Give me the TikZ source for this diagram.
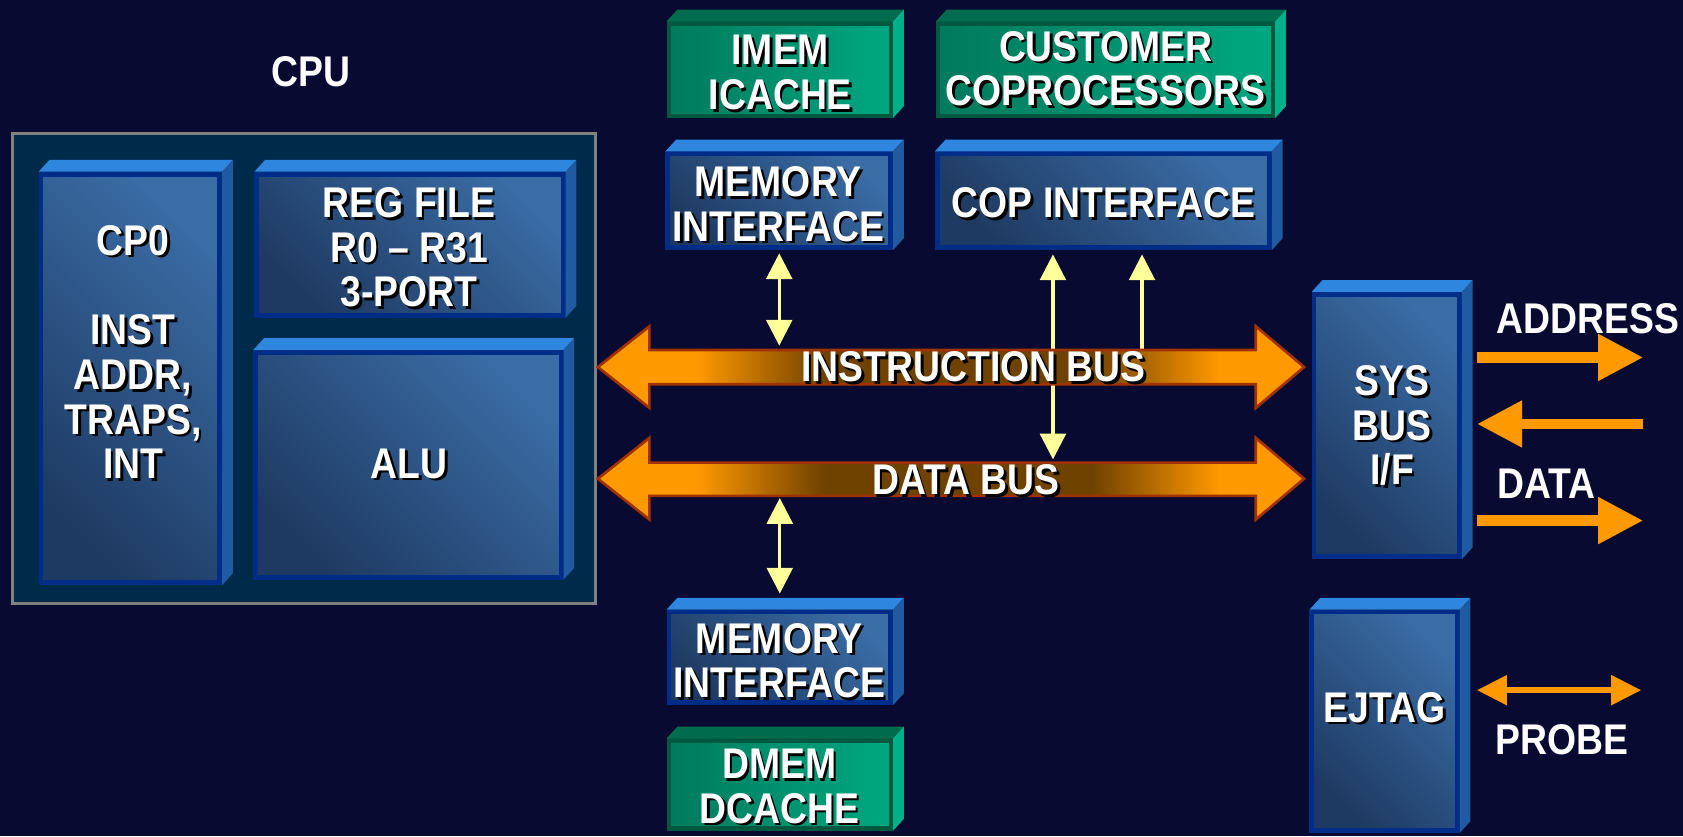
\documentclass[tikz,border=0pt]{standalone}
\usepackage{fontspec}
\setmainfont{Liberation Sans}[FakeStretch=0.87]
\usetikzlibrary{arrows.meta,calc}
\definecolor{bg}{RGB}{8,10,50}
\definecolor{cpufill}{RGB}{0,42,74}
\definecolor{cpuline}{RGB}{128,128,128}
\definecolor{btop}{RGB}{46,134,222}
\definecolor{bside}{RGB}{32,90,160}
\definecolor{bborder}{RGB}{0,45,135}
\definecolor{blight}{RGB}{58,108,165}
\definecolor{bdark}{RGB}{30,58,98}
\definecolor{gtop}{RGB}{0,108,78}
\definecolor{gside}{RGB}{0,176,136}
\definecolor{gborder}{RGB}{0,88,64}
\definecolor{glight}{RGB}{0,168,128}
\definecolor{gdark}{RGB}{0,122,92}
\definecolor{busor}{RGB}{255,153,0}
\definecolor{busdk}{RGB}{112,66,0}
\definecolor{busline}{RGB}{160,50,0}
\definecolor{ylw}{RGB}{255,255,153}
\definecolor{orng}{RGB}{255,153,0}
\pgfdeclarehorizontalshading{busshade}{100bp}{color(0bp)=(busor); color(32bp)=(busor); color(41bp)=(busdk); color(60bp)=(busdk); color(69bp)=(busor); color(100bp)=(busor)}
\newcommand\sh[1]{\makebox[0pt][l]{\hspace{2.5pt}\raisebox{-2.5pt}[0pt][0pt]{\textcolor{black}{#1}}}#1}
\newcommand\bevel[3]{%
  \fill[#2] (#1.north west) -- (#1.north east) -- ++(10,-11) -- ($(#1.north west)+(10,-11)$) -- cycle;
  \fill[#3] (#1.north east) -- ++(10,-11) -- ($(#1.south east)+(10,-11)$) -- (#1.south east) -- cycle;}
\begin{document}
\begin{tikzpicture}[x=1pt,y=-1pt,
  lbl/.style={text=white,font=\fontsize{40}{41.7}\selectfont\bfseries,align=center,inner sep=0pt},
  bluebox/.style={rectangle,draw=bborder,line width=4.5pt,top color=blight,bottom color=bdark,shading angle=-45,inner sep=0pt},
  greenbox/.style={rectangle,draw=gborder,line width=4pt,left color=gdark,right color=glight,inner sep=0pt},
  yboth/.style={draw=ylw,line width=3pt,{Triangle[width=24pt,length=24pt]}-{Triangle[width=24pt,length=24pt]}},
  yup/.style={draw=ylw,line width=3pt,{Triangle[width=24pt,length=24pt]}-},
  oarr/.style={draw=orng,line width=10pt,-{Triangle[width=41pt,length=42pt]}},
  parr/.style={draw=orng,line width=5pt,{Triangle[width=27pt,length=28pt]}-{Triangle[width=27pt,length=28pt]}},
  bus/.style={shading=busshade,draw=busline,line width=2.5pt,line join=miter}]
\useasboundingbox (0,0) rectangle (1568,779);
\fill[bg] (0,0) rectangle (1568,779);

% CPU
\node[lbl] (cpu-t) at (290,67) {CPU};
\node[draw=cpuline,line width=3pt,fill=cpufill,minimum width=543,minimum height=438,inner sep=0pt] (cpu) at (283,343.5) {};
\node[bluebox,minimum width=166.5,minimum height=380.5] (cp0) at (121.5,352.5) {};
\bevel{cp0}{btop}{bside}
\node[bluebox,minimum width=285.5,minimum height=131.5] (reg) at (382,228) {};
\bevel{reg}{btop}{bside}
\node[bluebox,minimum width=284.5,minimum height=209.5] (alu) at (380.5,433) {};
\bevel{alu}{btop}{bside}
\node[lbl] (cp0-t) at (124,328) {\sh{CP0}\\[41.7pt]\sh{INST}\\\sh{ADDR,}\\\sh{TRAPS,}\\\sh{INT}};
\node[lbl] (reg-t) at (381,230.5) {\sh{REG FILE}\\\sh{R0 \textendash{} R31}\\\sh{3-PORT}};
\node[lbl] (alu-t) at (381,432) {\sh{ALU}};

% top column
\node[greenbox,minimum width=207,minimum height=86] (imem) at (726.5,65) {};
\bevel{imem}{gtop}{gside}
\node[lbl] (imem-t) at (727,67.5) {\sh{IMEM}\\\sh{ICACHE}};
\node[greenbox,minimum width=312,minimum height=86] (cust) at (1030,65) {};
\bevel{cust}{gtop}{gside}
\node[lbl] (cust-t) at (1030,64) {\sh{CUSTOMER}\\\sh{COPROCESSORS}};
\node[bluebox,minimum width=207.5,minimum height=87.5] (memi1) at (726,187) {};
\bevel{memi1}{btop}{bside}
\node[lbl] (memi1-t) at (725,190) {\sh{MEMORY}\\\sh{INTERFACE}};
\node[bluebox,minimum width=309.5,minimum height=87.5] (cop) at (1028,187) {};
\bevel{cop}{btop}{bside}
\node[lbl] (cop-t) at (1028,189) {\sh{COP INTERFACE}};

% bottom column
\node[bluebox,minimum width=206.5,minimum height=84.5] (memi2) at (726.5,612.5) {};
\bevel{memi2}{btop}{bside}
\node[lbl] (memi2-t) at (726,615.5) {\sh{MEMORY}\\\sh{INTERFACE}};
\node[greenbox,minimum width=207,minimum height=82] (dmem) at (726.5,731) {};
\bevel{dmem}{gtop}{gside}
\node[lbl] (dmem-t) at (726,732.5) {\sh{DMEM}\\\sh{DCACHE}};

% right column
\node[bluebox,minimum width=135.5,minimum height=244.5] (sys) at (1292,396.5) {};
\bevel{sys}{btop}{bside}
\node[lbl] (sys-t) at (1297,396.5) {\sh{SYS}\\\sh{BUS}\\\sh{I/F}};
\node[bluebox,minimum width=135.5,minimum height=203.5] (ejtag) at (1290,672) {};
\bevel{ejtag}{btop}{bside}
\node[lbl] (ejtag-t) at (1290,659) {\sh{EJTAG}};

% bus reference coordinates
\coordinate (ibt) at (0,326);
\coordinate (dbt) at (0,431);
\coordinate (dbb) at (0,462);

% yellow connectors
\draw[yboth] ($(memi1.south)+(0,3)$) -- ($(memi1.south |- ibt)+(0,-4)$);
\draw[yboth] ($(cop.south)+(-47,4)$) -- ($(cop.south |- dbt)+(-47,-3)$);
\draw[yup] ($(cop.south)+(36,4)$) -- ($(cop.south |- ibt)+(36,0)$);
\draw[yboth] ($(memi2.north |- dbb)+(0,2)$) -- ($(memi2.north)+(0,-15)$);

% buses
\shadedraw[bus] (557,342) -- (605,304) -- (605,326) -- (1170,326) -- (1170,304) -- (1215,342) -- (1170,380) -- (1170,358) -- (605,358) -- (605,380) -- cycle;
\node[lbl] (ib-t) at (907,342) {\sh{INSTRUCTION BUS}};
\shadedraw[bus] (557,446) -- (605,408) -- (605,431) -- (1170,431) -- (1170,408) -- (1215,446) -- (1170,484) -- (1170,462) -- (605,462) -- (605,484) -- cycle;
\node[lbl] (db-t) at (900,447) {\sh{DATA BUS}};

% external signals
\coordinate (a1) at (1531,333);
\coordinate (a2) at (1531,395);
\coordinate (a3) at (1531,485);
\coordinate (p1) at (1529,643);
\draw[oarr] ($(sys.east |- a1)+(14,0)$) -- (a1);
\draw[oarr] (a2) -- ($(sys.east |- a2)+(14,0)$);
\draw[oarr] ($(sys.east |- a3)+(14,0)$) -- (a3);
\draw[parr] ($(ejtag.east |- p1)+(16,0)$) -- (p1);
\node[lbl,anchor=west] (addr-t) at (1394,296.5) {ADDRESS};
\node[lbl,anchor=west] (data-t) at (1395,451) {DATA};
\node[lbl,anchor=west] (probe-t) at (1393,689) {PROBE};
\end{tikzpicture}
\end{document}
